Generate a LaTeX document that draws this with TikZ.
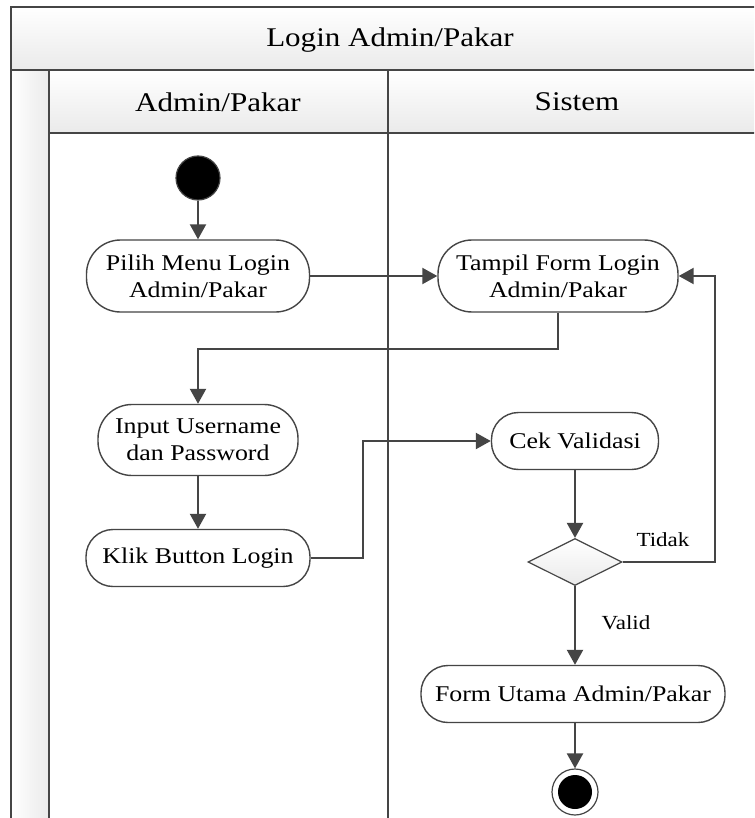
\documentclass[tikz,border=0pt]{standalone}
\usepackage{fontspec}
\setmainfont{Liberation Serif}[FakeStretch=1.15]
\usetikzlibrary{arrows.meta,shapes.geometric,calc}
\definecolor{ln}{HTML}{454545}
\definecolor{bandbot}{HTML}{EAEAEA}
\tikzset{
  frameline/.style={draw=ln, line width=1.8pt},
  act/.style={draw=ln, line width=1.4pt, fill=white, rectangle, rounded corners=27pt,
    inner sep=0pt, align=center, font=\fontsize{22.5}{27}\selectfont},
  arr/.style={draw=ln, line width=2.2pt, -{Triangle[length=15pt,width=16pt]}},
  lbl/.style={font=\fontsize{20}{23}\selectfont, inner sep=0pt},
  hdr/.style={font=\fontsize{27}{30}\selectfont, inner sep=0pt}
}
\begin{document}
\begin{tikzpicture}[x=1pt,y=-1pt]
\clip (0,0) rectangle (754,818);
\fill[white] (0,0) rectangle (754,818);
% frame
\shade[top color=white, bottom color=bandbot] (11,7) rectangle (780,70);
\shade[top color=white, bottom color=bandbot] (49,70) rectangle (780,133);
\shade[left color=white, right color=bandbot] (11,70) rectangle (49,840);
\draw[frameline] (11,7) rectangle (780,840);
\draw[frameline] (11,70) -- (780,70);
\draw[frameline] (49,70) -- (49,840);
\draw[frameline] (49,133) -- (780,133);
\draw[frameline] (388,70) -- (388,840);
\node[hdr] (title) at (390,40) {Login Admin/Pakar};
\node[hdr] (lane1) at (218,102) {Admin/Pakar};
\node[hdr] (lane2) at (577,102) {Sistem};
% nodes
\node[circle, draw=ln, line width=1.2pt, fill=black, minimum size=44pt, inner sep=0pt] (start) at (198,178) {};
\node[act, minimum width=223pt, minimum height=72pt, rounded corners=34pt] (pilih) at (198,276) {Pilih Menu Login\\Admin/Pakar};
\node[act, minimum width=240pt, minimum height=72pt, rounded corners=34pt] (tampil) at (558,276) {Tampil Form Login\\Admin/Pakar};
\node[act, minimum width=200pt, minimum height=71pt, rounded corners=34pt] (input) at (198,440) {Input Username\\dan Password};
\node[act, minimum width=224pt, minimum height=57pt] (klik) at (198,558) {Klik Button Login};
\node[act, minimum width=167pt, minimum height=57pt] (cek) at (575,441) {Cek Validasi};
\node[diamond, draw=ln, line width=1.2pt, top color=white, bottom color=bandbot, minimum width=94pt, minimum height=47pt, inner sep=0pt, aspect=2] (dec) at (575,562) {};
\node[act, minimum width=304pt, minimum height=57pt] (form) at (573,694) {Form Utama Admin/Pakar};
\node[circle, draw=ln, line width=1.2pt, fill=white, minimum size=46pt, inner sep=0pt] (end) at (575,792) {};
\node[circle, fill=black, minimum size=34pt, inner sep=0pt] (endin) at (end) {};
% junctions
\coordinate (j1) at (198,349);
\coordinate (j2) at (363,558);
\coordinate (j3) at (715,562);
% connectors
\draw[arr] (start) -- (pilih);
\draw[arr] (pilih) -- (tampil);
\draw[arr] (tampil.south) |- (j1) -- (input.north);
\draw[arr] (input) -- (klik);
\draw[arr] (klik.east) -- (j2) |- (cek.west);
\draw[arr] (cek) -- (dec);
\draw[arr] (dec.east) -- (j3) |- (tampil.east);
\draw[arr] (dec.south) -- (dec.south |- form.north);
\draw[arr] (form.south -| end) -- (end);
\node[lbl] (tidak) at (663,540) {Tidak};
\node[lbl] (valid) at (626,623) {Valid};
\end{tikzpicture}
\end{document}
